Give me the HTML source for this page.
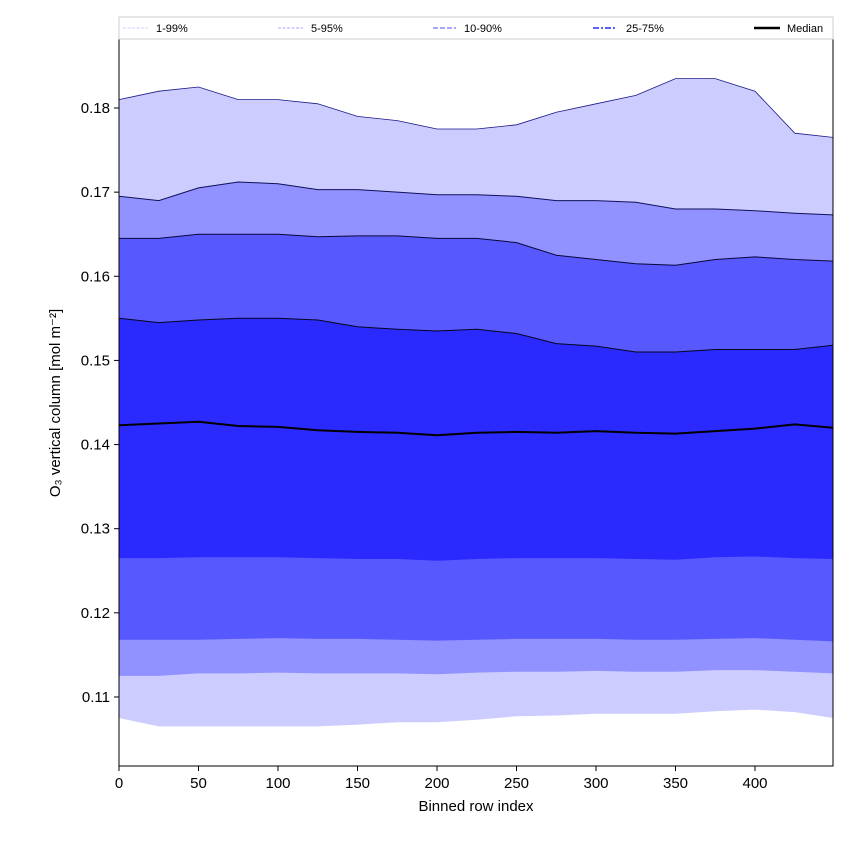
<!DOCTYPE html>
<html><head><meta charset="utf-8"><style>
body{margin:0;background:#fff;}
svg text{font-family:"Liberation Sans",sans-serif;}
</style></head><body>
<svg id="chart" width="850" height="850" xmlns="http://www.w3.org/2000/svg">
<rect width="850" height="850" fill="#fff"/>
<g id="bands"></g>
<g id="axes"></g>
<rect x="119" y="39" width="714" height="727" fill="none" stroke="#000" stroke-width="1"/>
<text x="476" y="811" text-anchor="middle" font-size="15">Binned row index</text>
<text transform="translate(60,403) rotate(-90)" text-anchor="middle" font-size="15">O₃ vertical column [mol m⁻²]</text>
<g>
<rect x="119" y="17" width="714" height="22" fill="#fff" stroke="#ccc"/>
<line x1="123" y1="28" x2="148" y2="28" stroke="#ccccff" stroke-width="1" stroke-dasharray="3,1.5"/>
<text x="156" y="32" font-size="11">1-99%</text>
<line x1="278" y1="28" x2="303" y2="28" stroke="#aaaaff" stroke-width="1" stroke-dasharray="3,1.5"/>
<text x="311" y="32" font-size="11">5-95%</text>
<line x1="433" y1="28" x2="456" y2="28" stroke="#8888ff" stroke-width="1.5" stroke-dasharray="5,2"/>
<text x="464" y="32" font-size="11">10-90%</text>
<line x1="593" y1="28" x2="617" y2="28" stroke="#6060ff" stroke-width="2" stroke-dasharray="6,2,2,2"/>
<text x="626" y="32" font-size="11">25-75%</text>
<line x1="754" y1="28" x2="780" y2="28" stroke="#000" stroke-width="2.5"/>
<text x="787" y="32" font-size="11">Median</text>
</g>
</svg>
<script>
const rows=[0,25,50,75,100,125,150,175,200,225,250,275,300,325,350,375,400,425,449];
const p99=[0.181,0.182,0.1825,0.181,0.181,0.1805,0.179,0.1785,0.1775,0.1775,0.178,0.1795,0.1805,0.1815,0.1835,0.1835,0.182,0.177,0.1765];
const p95=[0.1695,0.169,0.1705,0.1712,0.171,0.1703,0.1703,0.170,0.1697,0.1697,0.1695,0.169,0.169,0.1688,0.168,0.168,0.1678,0.1675,0.1673];
const p90=[0.1645,0.1645,0.165,0.165,0.165,0.1647,0.1648,0.1648,0.1645,0.1645,0.164,0.1625,0.162,0.1615,0.1613,0.162,0.1623,0.162,0.1618];
const p75=[0.155,0.1545,0.1548,0.155,0.155,0.1548,0.154,0.1537,0.1535,0.1537,0.1532,0.152,0.1517,0.151,0.151,0.1513,0.1513,0.1513,0.1518];
const med=[0.1423,0.1425,0.1427,0.1422,0.1421,0.1417,0.1415,0.1414,0.1411,0.1414,0.1415,0.1414,0.1416,0.1414,0.1413,0.1416,0.1419,0.1424,0.142];
const p25=[0.1265,0.1265,0.1266,0.1266,0.1266,0.1265,0.1264,0.1264,0.1262,0.1264,0.1265,0.1265,0.1265,0.1264,0.1263,0.1266,0.1267,0.1265,0.1264];
const p10=[0.1168,0.1168,0.1168,0.1169,0.117,0.1169,0.1169,0.1168,0.1167,0.1168,0.1169,0.1169,0.1169,0.1168,0.1168,0.1169,0.117,0.1168,0.1166];
const p5=[0.1125,0.1125,0.1128,0.1128,0.1129,0.1128,0.1128,0.1128,0.1127,0.1129,0.113,0.113,0.1131,0.113,0.113,0.1132,0.1132,0.113,0.1128];
const p1=[0.1075,0.1065,0.1065,0.1065,0.1065,0.1065,0.1067,0.107,0.107,0.1073,0.1077,0.1078,0.108,0.108,0.108,0.1083,0.1085,0.1082,0.1075];
const xTicks=[0,50,100,150,200,250,300,350,400];
const yTicks=[0.11,0.12,0.13,0.14,0.15,0.16,0.17,0.18];
const X=v=>119+v*(636/400);
const Y=v=>108+(0.18-v)*8414;
const NS="http://www.w3.org/2000/svg";
const bands=document.getElementById('bands'),axes=document.getElementById('axes');
function pts(a){return rows.map((r,i)=>X(r).toFixed(1)+','+Y(a[i]).toFixed(1));}
function band(hi,lo,fill,name){
  const p=document.createElementNS(NS,'polygon');
  p.setAttribute('points',pts(hi).concat(pts(lo).reverse()).join(' '));
  p.setAttribute('fill',fill);
  
  
  bands.appendChild(p);
}
function line(a,color,w,name){
  const p=document.createElementNS(NS,'polyline');
  p.setAttribute('points',pts(a).join(' '));
  p.setAttribute('fill','none');p.setAttribute('stroke',color);p.setAttribute('stroke-width',w);
  
  
  bands.appendChild(p);
}
band(p99,p1,'#ccccff','band-1-99');
band(p95,p5,'#9191ff','band-5-95');
band(p90,p10,'#5858ff','band-10-90');
band(p75,p25,'#2a2aff','band-25-75');
line(p99,'#1a1a8a',0.8,'line-p99');
line(p95,'#10105a',1,'line-p95');
line(p90,'#08083a',1,'line-p90');
line(p75,'#050520',1,'line-p75');
line(med,'#000',2,'median-line');
xTicks.forEach(t=>{
  const l=document.createElementNS(NS,'line');
  l.setAttribute('x1',X(t));l.setAttribute('x2',X(t));l.setAttribute('y1',766);l.setAttribute('y2',771);l.setAttribute('stroke','#000');
  
  
  axes.appendChild(l);
  const tx=document.createElementNS(NS,'text');
  tx.setAttribute('x',X(t));tx.setAttribute('y',788);tx.setAttribute('text-anchor','middle');tx.setAttribute('font-size','15');
  tx.textContent=t;
  
  
  axes.appendChild(tx);
});
yTicks.forEach(t=>{
  const l=document.createElementNS(NS,'line');
  l.setAttribute('x1',114);l.setAttribute('x2',119);l.setAttribute('y1',Y(t));l.setAttribute('y2',Y(t));l.setAttribute('stroke','#000');
  
  
  axes.appendChild(l);
  const tx=document.createElementNS(NS,'text');
  tx.setAttribute('x',110);tx.setAttribute('y',Y(t)+5);tx.setAttribute('text-anchor','end');tx.setAttribute('font-size','15');
  tx.textContent=t.toFixed(2);
  
  
  axes.appendChild(tx);
});
</script>
</body></html>
